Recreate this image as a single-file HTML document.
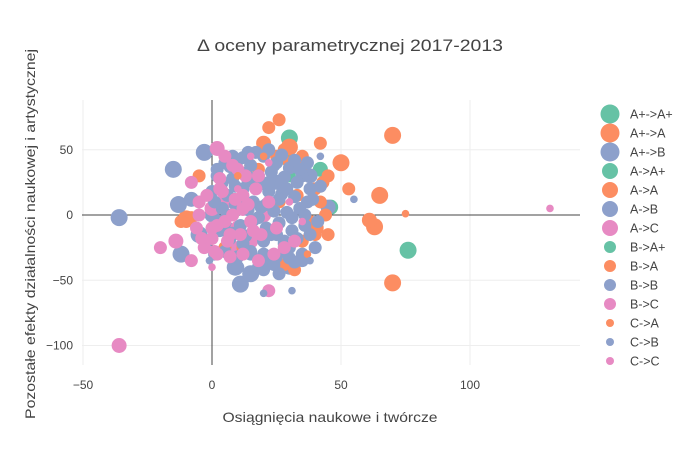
<!DOCTYPE html>
<html><head><meta charset="utf-8"><style>
body{margin:0;background:#fff;font-family:"Liberation Sans",sans-serif;}
svg text{font-family:"Liberation Sans",sans-serif;fill:#444;}
</style></head><body>
<svg id="chart" width="700" height="450">
<rect width="700" height="450" fill="#fff"/>
<text x="350" y="51" text-anchor="middle" font-size="17" textLength="306" lengthAdjust="spacingAndGlyphs">Δ oceny parametrycznej 2017-2013</text>
<g id="grid"></g><g id="marks"></g><g id="axes"></g><g id="legend"></g>
<text x="330" y="422" text-anchor="middle" font-size="14" textLength="215" lengthAdjust="spacingAndGlyphs">Osiągnięcia naukowe i twórcze</text>
<text transform="translate(35,234) rotate(-90)" text-anchor="middle" font-size="14" textLength="370" lengthAdjust="spacingAndGlyphs">Pozostałe efekty działalności naukowej i artystycznej</text>
</svg>
<script>
const xTicks=[-50,0,50,100];
const yTicks=[50,0,-50,-100];
const seriesNames=["A+->A+","A+->A","A+->B","A->A+","A->A","A->B","A->C","B->A+","B->A","B->B","B->C","C->A","C->B","C->C"];
const sA1x=[30,76,28];const sA1y=[59,-27,45];
const sA2x=[70,70,65,63,50,40,-10,30];const sA2y=[61,-52,15,-9,40,-10,-3,52];
const sA3x=[-36,-15,-13,-3,-12,11,9,-5,5,15];const sA3y=[-2,35,8,48,-30,-53,-40,-15,-10,-45];
const sA4x=[42,46];const sA4y=[35,6];
const sA5x=[61,20,35];const sA5y=[-4,55,35];
const sA6x=[45,-8,38,30,0,25];const sA6y=[6,12,30,-40,0,25];
const sA7x=[-36,2,-14,5,10,15,0,8,20,12];const sA7y=[-100,51,-20,10,-10,-20,5,-25,0,5];
const sB1x=[30];const sB1y=[30];
const sB2x=[45,40,42,40,43,35,38,44,-10,-8,30,35,28,20,15,18,22,28,32,12,26,33,5,-5,45,53,42,22,26,25,-12];
const sB2y=[-15,-15,10,20,25,-20,-5,0,-5,-2,40,45,50,52,38,35,-35,-38,-42,-25,10,15,-25,30,30,20,55,67,73,45,-5];
const sB3x=[5,10,15,20,25,30,35,2,8,13,18,23,28,33,38,0,6,12,17,22,27,32,37,4,9,14,19,24,29,34,3,11,16,21,26,31,36,7,12,20,25,30,-2,1,15,22,28,35,40,18,10,24,
 2,7,12,17,22,27,32,37,42,4,9,14,19,24,29,34,39,1,6,11,16,21,26,31,36,41,3,8,13,18,23,28,33,38,5,10,15,20,25,30,35,8,14,20,26,32,16,22,28];
const sB3y=[40,42,38,45,40,36,30,30,28,32,30,33,29,25,20,18,15,20,22,18,16,14,10,5,8,4,6,3,2,5,-5,-8,-4,-10,-6,-12,-8,-18,-22,-20,-15,-25,-20,-30,-30,-35,-28,-30,-25,-40,-40,-38,
 35,37,44,48,50,46,42,40,22,25,22,26,24,38,20,35,12,10,0,12,10,8,12,-2,0,-5,-12,-14,-16,-2,-15,-20,-18,-15,-28,-32,-28,-30,-32,-33,-35,45,48,-42,-45,-36,28,25,-22];
const sB4x=[-20,-8,22,5,-5,3,12,18,7,-3,15,25,10,0,2,22,-5,8,5,28,-8,12,18,32,
 -2,4,9,14,0,6,11,16,-4,2,7,12,17,3,8,13,-6,1,19,24];
const sB4y=[-25,25,-58,-5,0,20,15,30,-15,-25,-5,-10,35,-18,-8,10,10,0,45,-25,-35,-30,-35,-20,
 15,18,12,8,-10,-20,-15,-12,-18,-30,-32,5,20,28,38,30,-10,-28,-15,-30];
const sC1x=[75,10,20,37];const sC1y=[1,30,45,-30];
const sC2x=[20,31,55,38,-1,42];const sC2y=[-60,-58,12,-35,-35,45];
const sC3x=[131,22,30,0,10,35,15];const sC3y=[5,40,10,-40,20,-5,45];
const seriesX=[sA1x,sA2x,sA3x,sA4x,sA5x,sA6x,sA7x,sB1x,sB2x,sB3x,sB4x,sC1x,sC2x,sC3x];
const seriesY=[sA1y,sA2y,sA3y,sA4y,sA5y,sA6y,sA7y,sB1y,sB2y,sB3y,sB4y,sC1y,sC2y,sC3y];
const G="#66c2a5",O="#fc8d62",B="#8da0cb",P="#e78ac3";
const colors=[G,O,B,G,O,B,P,G,O,B,P,O,B,P];
const radii=[8.5,8.5,8.5,7.5,7.5,7.5,7.5,6.5,6.5,6.5,6.5,3.8,3.8,3.8];
const legR=[9.5,9.5,9.5,8,8,8,8,6,6,6,6,4,4,4];
const L=82,R=580,T=100,Bt=365;
function sx(v){return 212+v*2.58;}
function sy(v){return 215-v*1.305;}
const NS="http://www.w3.org/2000/svg";
function mk(tag,attrs,parent){const e=document.createElementNS(NS,tag);for(const k in attrs)e.setAttribute(k,attrs[k]);parent.appendChild(e);return e;}
const grid=document.getElementById('grid'),axes=document.getElementById('axes'),marks=document.getElementById('marks'),leg=document.getElementById('legend');
xTicks.forEach(t=>{
 if(t!==0){const l=mk('line',{x1:sx(t),x2:sx(t),y1:T,y2:Bt,stroke:'#eee','stroke-width':1},grid);
 
 }
 const tx=mk('text',{x:sx(t),y:389,'text-anchor':'middle','font-size':12},axes);tx.textContent=t<0?'−'+(-t):t;
 
 
});
yTicks.forEach(t=>{
 if(t!==0){const l=mk('line',{x1:L,x2:R,y1:sy(t),y2:sy(t),stroke:'#eee','stroke-width':1},grid);
 
 }
 const tx=mk('text',{x:73,y:sy(t)+4,'text-anchor':'end','font-size':12},axes);tx.textContent=t<0?'−'+(-t):t;
 
 
});
const zx=mk('line',{x1:sx(0),x2:sx(0),y1:T,y2:Bt,stroke:'#444','stroke-width':1},grid);


const zy=mk('line',{x1:L,x2:R,y1:sy(0),y2:sy(0),stroke:'#444','stroke-width':1},grid);


seriesNames.forEach((n,i)=>{
 const xs=seriesX[i],ys=seriesY[i];
 for(let j=0;j<xs.length;j++){
  const c=mk('circle',{cx:sx(xs[j]),cy:sy(ys[j]),r:radii[i],fill:colors[i]},marks);
  
  
 }
 const y=114+i*19;
 const g=mk('g',{},leg);
 
 
 mk('circle',{cx:610,cy:y,r:legR[i],fill:colors[i]},g);
 const tx=mk('text',{x:630,y:y+4.5,'font-size':12.5},g);tx.textContent=n;
});
</script>
</body></html>
